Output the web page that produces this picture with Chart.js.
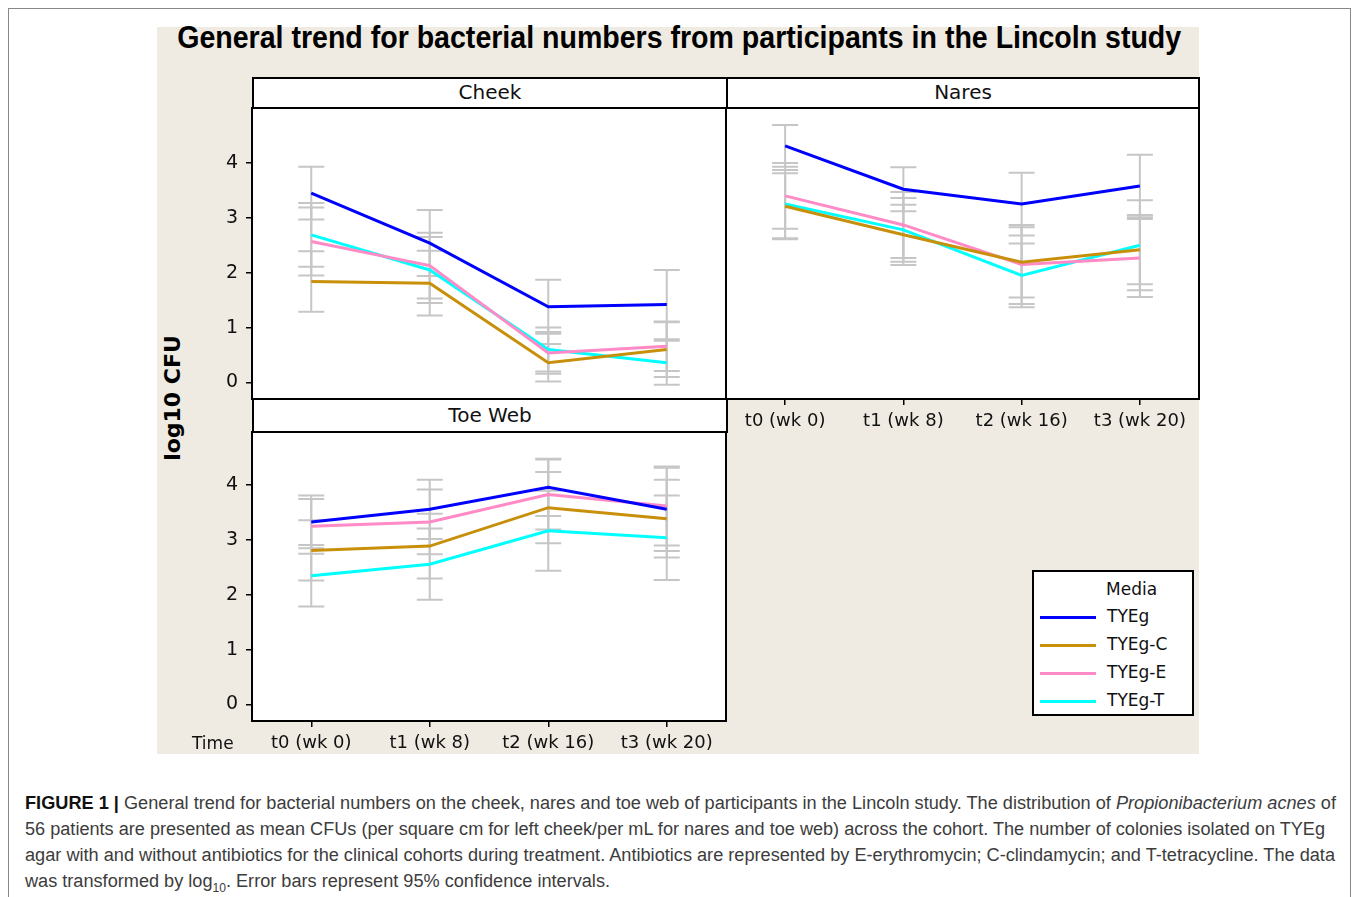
<!DOCTYPE html>
<html>
<head>
<meta charset="utf-8">
<script src="https://cdn.jsdelivr.net/npm/chart.js@4.4.1/dist/chart.umd.min.js"></script>
<style>
  body { margin: 0; background: #fff; width: 1358px; height: 897px; overflow: hidden; position: relative; font-family: "DejaVu Sans", sans-serif; }
  #frame { position: absolute; left: 8px; top: 8px; width: 1343px; height: 900px; border: 1px solid #888; box-sizing: border-box; }
  #bg { position: absolute; left: 157px; top: 27px; width: 1042px; height: 727px; background: #efebe2; }
  #title { position: absolute; left: 0; top: 20px; width: 1358px; text-align: center; font: bold 31px "Liberation Sans", sans-serif; color: #000; white-space: nowrap; }
  #title span { display: inline-block; transform-origin: center; }
  .hdr { position: absolute; height: 32px; border: 2px solid #000; box-sizing: border-box; background: #fff; text-align: center; font-size: 20px; line-height: 27px; color: #111; }
  .wrap { position: absolute; }
  #ylab { position: absolute; left: 172px; top: 398px; transform: translate(-50%, -50%) rotate(-90deg); font: bold 22px "DejaVu Sans", sans-serif; white-space: nowrap; }
  #time { position: absolute; left: 192px; top: 733px; font-size: 17px; color: #111; }
  #legend { position: absolute; left: 1032px; top: 570px; width: 162px; height: 146px; border: 2px solid #000; box-sizing: border-box; background: #fff; font-size: 17px; color: #111; }
  #legend .ttl { position: absolute; left: 72px; top: 7px; }
  #legend .item { position: absolute; left: 6px; height: 20px; }
  #legend .item i { position: absolute; left: 0; top: 10px; width: 56px; height: 3px; }
  #legend .item span { position: absolute; left: 67px; top: 0; white-space: nowrap; }
  #caption { position: absolute; left: 25px; top: 790px; font: 18px "Liberation Sans", Arial, sans-serif; color: #3c3c3c; line-height: 26px; white-space: nowrap; }
  #caption div { display: inline-block; transform-origin: left center; }
  #caption b { color: #111; }
</style>
</head>
<body>
<div id="frame"></div>
<div id="bg"></div>
<div id="title"><span>General trend for bacterial numbers from participants in the Lincoln study</span></div>
<div class="hdr" style="left:252px;top:77px;width:476px;">Cheek</div>
<div class="hdr" style="left:726px;top:77px;width:474px;">Nares</div>
<div class="hdr" style="left:252px;top:398px;width:476px;height:35px;line-height:30px;">Toe Web</div>
<div class="wrap" style="left:190px;top:106px;width:538px;height:295px;"><canvas id="cheek"></canvas></div>
<div class="wrap" style="left:724px;top:106px;width:477px;height:333px;"><canvas id="nares"></canvas></div>
<div class="wrap" style="left:190px;top:430px;width:538px;height:331px;"><canvas id="toe"></canvas></div>
<div id="ylab">log10 CFU</div>
<div id="time">Time</div>
<div id="legend"><div class="ttl">Media</div></div>
<div id="caption">
  <div data-w="1311"><b>FIGURE 1 |</b> General trend for bacterial numbers on the cheek, nares and toe web of participants in the Lincoln study. The distribution of <i>Propionibacterium acnes</i> of</div><br>
  <div data-w="1300">56 patients are presented as mean CFUs (per square cm for left cheek/per mL for nares and toe web) across the cohort. The number of colonies isolated on TYEg</div><br>
  <div data-w="1310">agar with and without antibiotics for the clinical cohorts during treatment. Antibiotics are represented by E-erythromycin; C-clindamycin; and T-tetracycline. The data</div><br>
  <div data-w="585">was transformed by log<sub style="font-size:12px">10</sub>. Error bars represent 95% confidence intervals.</div>
</div>
<script>
// categories
const timepoints = ['t0 (wk 0)', 't1 (wk 8)', 't2 (wk 16)', 't3 (wk 20)'];
const media = ['TYEg', 'TYEg-C', 'TYEg-E', 'TYEg-T'];
const yTicks = [0, 1, 2, 3, 4];

// mean log10 CFU, Cheek
const cheekTYEg  = [3.45, 2.54, 1.38, 1.42];
const cheekTYEgC = [1.84, 1.81, 0.36, 0.60];
const cheekTYEgE = [2.57, 2.13, 0.54, 0.66];
const cheekTYEgT = [2.69, 2.05, 0.60, 0.36];
// 95% CI half widths, Cheek
const cheekErrTYEg  = [0.48, 0.60, 0.49, 0.63];
const cheekErrTYEgC = [0.55, 0.59, 0.34, 0.50];
const cheekErrTYEgE = [0.62, 0.60, 0.38, 0.45];
const cheekErrTYEgT = [0.58, 0.60, 0.40, 0.40];

// Nares
const naresTYEg  = [4.31, 3.52, 3.25, 3.58];
const naresTYEgC = [3.21, 2.69, 2.19, 2.42];
const naresTYEgE = [3.40, 2.87, 2.15, 2.27];
const naresTYEgT = [3.25, 2.78, 1.95, 2.50];
const naresErrTYEg  = [0.38, 0.40, 0.57, 0.57];
const naresErrTYEgC = [0.60, 0.55, 0.64, 0.63];
const naresErrTYEgE = [0.60, 0.60, 0.72, 0.71];
const naresErrTYEgT = [0.62, 0.58, 0.58, 0.82];

// Toe Web
const toeTYEg  = [3.33, 3.56, 3.96, 3.56];
const toeTYEgC = [2.81, 2.89, 3.59, 3.39];
const toeTYEgE = [3.25, 3.33, 3.83, 3.62];
const toeTYEgT = [2.35, 2.56, 3.17, 3.04];
const toeErrTYEg  = [0.48, 0.54, 0.52, 0.76];
const toeErrTYEgC = [0.55, 0.59, 0.65, 0.71];
const toeErrTYEgE = [0.50, 0.59, 0.64, 0.72];
const toeErrTYEgT = [0.56, 0.65, 0.73, 0.77];

const colors = ['#0000ff', '#c8900a', '#ff8ac6', '#00ffff'];

// white plot area + black frame
const plotBox = {
    id: 'plotBox',
    beforeDraw(chart) {
        const { ctx, chartArea: a } = chart;
        ctx.save();
        ctx.fillStyle = '#fff';
        ctx.fillRect(a.left, a.top, a.right - a.left, a.bottom - a.top);
        ctx.restore();
    },
    afterDraw(chart) {
        const { ctx, chartArea: a } = chart;
        ctx.save();
        ctx.strokeStyle = '#000';
        ctx.lineWidth = 2;
        ctx.strokeRect(a.left, a.top, a.right - a.left, a.bottom - a.top);
        ctx.restore();
    }
};

// grey 95% CI bars under the lines
const errorBars = {
    id: 'errorBars',
    beforeDatasetsDraw(chart) {
        const { ctx, scales: { x, y } } = chart;
        ctx.save();
        ctx.strokeStyle = '#c6c6c6';
        ctx.lineWidth = 2;
        chart.data.datasets.forEach(ds => {
            ds.data.forEach((v, i) => {
                const e = ds.errorBars[i];
                const px = x.getPixelForValue(i);
                const top = y.getPixelForValue(v + e);
                const bot = y.getPixelForValue(v - e);
                ctx.beginPath();
                ctx.moveTo(px, top); ctx.lineTo(px, bot);
                ctx.moveTo(px - 13, top); ctx.lineTo(px + 13, top);
                ctx.moveTo(px - 13, bot); ctx.lineTo(px + 13, bot);
                ctx.stroke();
            });
        });
        ctx.restore();
    }
};

function makePanel(id, series, errs, { showY, showX, yMax }) {
    new Chart(document.getElementById(id), {
        type: 'line',
        data: {
            labels: timepoints,
            datasets: series.map((s, i) => ({
                label: media[i],
                data: s,
                errorBars: errs[i],
                borderColor: colors[i],
                borderWidth: 3,
                pointRadius: 0,
                tension: 0,
                fill: false
            }))
        },
        options: {
            responsive: true,
            maintainAspectRatio: false,
            animation: false,
            layout: { padding: { top: 2, right: 2, bottom: showX ? 0 : 2, left: showY ? 0 : 2 } },
            plugins: { legend: { display: false }, tooltip: { enabled: false } },
            scales: {
                x: {
                    type: 'category',
                    offset: true,
                    display: showX,
                    afterFit: ax => {
                        if (showX) ax.height = 40;
                        ax.paddingLeft = 0; ax.paddingRight = 0;
                    },
                    grid: { drawOnChartArea: false, drawTicks: true, tickLength: 6, color: '#000', lineWidth: 1.5 },
                    border: { display: false },
                    ticks: { color: '#111', font: { family: 'DejaVu Sans', size: 18 }, padding: 6, maxRotation: 0, autoSkip: false }
                },
                y: {
                    min: -0.3,
                    max: yMax,
                    display: showY,
                    afterFit: ax => {
                        if (showY) ax.width = 62;
                        ax.paddingTop = 0; ax.paddingBottom = 0;
                    },
                    afterBuildTicks: ax => { ax.ticks = yTicks.map(v => ({ value: v })); },
                    grid: { drawOnChartArea: false, drawTicks: true, tickLength: 6, color: '#000', lineWidth: 1.5 },
                    border: { display: false },
                    ticks: { color: '#111', font: { family: 'DejaVu Sans', size: 19 }, padding: 8 }
                }
            }
        },
        plugins: [plotBox, errorBars]
    });
}

makePanel('cheek',
    [cheekTYEg, cheekTYEgC, cheekTYEgE, cheekTYEgT],
    [cheekErrTYEg, cheekErrTYEgC, cheekErrTYEgE, cheekErrTYEgT],
    { showY: true, showX: false, yMax: 5.0 });
makePanel('nares',
    [naresTYEg, naresTYEgC, naresTYEgE, naresTYEgT],
    [naresErrTYEg, naresErrTYEgC, naresErrTYEgE, naresErrTYEgT],
    { showY: false, showX: true, yMax: 5.0 });
makePanel('toe',
    [toeTYEg, toeTYEgC, toeTYEgE, toeTYEgT],
    [toeErrTYEg, toeErrTYEgC, toeErrTYEgE, toeErrTYEgT],
    { showY: true, showX: true, yMax: 4.97 });

// legend
const legend = document.getElementById('legend');
media.forEach((m, i) => {
    const row = document.createElement('div');
    row.className = 'item';
    row.style.top = (34 + i * 28) + 'px';
    row.innerHTML = `<i style="background:${colors[i]}"></i><span>${m}</span>`;
    legend.appendChild(row);
});

// fit title and caption lines to the reference widths
const t = document.querySelector('#title span');
t.style.transform = `scaleX(${1004 / t.getBoundingClientRect().width})`;
document.querySelectorAll('#caption div').forEach(d => {
    d.style.transform = `scaleX(${(+d.dataset.w) / d.getBoundingClientRect().width})`;
});
</script>
</body>
</html>
